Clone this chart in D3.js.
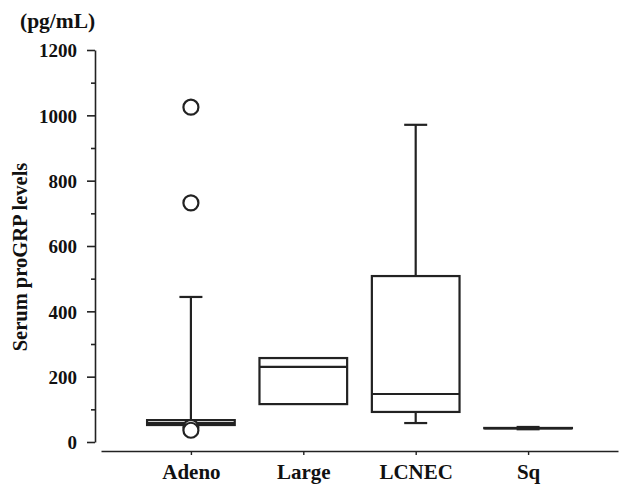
<!DOCTYPE html>
<html>
<head>
<meta charset="utf-8">
<script src="https://cdn.jsdelivr.net/npm/d3@7"></script>
<style>
  body { margin: 0; background: #fff; }
  text { font-family: "Liberation Serif", "Times New Roman", serif; font-weight: bold; fill: #111; }
</style>
</head>
<body>
<script>
let w = 626;
let h = 484;

const categories = ["Adeno", "Large", "LCNEC", "Sq"];
const q1 = [52, 116, 92, 42];
const medians = [58, 230, 147, 42];
const q3 = [67, 257, 508, 43];
const whiskerLow = [null, null, 58, 39];
const whiskerHigh = [444, null, 971, 46];
const outliers = [[1025, 732, 45, 36], [], [], []];
const yTicks = [0, 200, 400, 600, 800, 1000, 1200];
const yMinorTicks = [100, 300, 500, 700, 900, 1100];

const boxes = categories.map(function (c, i) {
  return { cat: c, q1: q1[i], med: medians[i], q3: q3[i], lo: whiskerLow[i], hi: whiskerHigh[i], out: outliers[i] };
});

//create our svg
let svg = d3.select("body").append("svg").attr("width", w).attr("height", h);

let y = d3.scaleLinear().domain([0, 1200]).range([442, 50]);
let x = d3.scalePoint().domain(categories).range([101, 618]).padding(0.8);
let boxW = x.step() * 0.78;
let capW = 23;

//y axis, major ticks with labels
let yAxis = svg.append("g")
  .attr("transform", "translate(95,0)")
  .call(d3.axisLeft(y).tickValues(yTicks).tickFormat(d3.format("d")).tickSize(8).tickSizeOuter(0).tickPadding(10));
yAxis.selectAll("text").attr("font-size", 19).attr("dy", "0.36em").style("font-family", "Liberation Serif").style("font-weight", "bold");

//minor ticks
svg.append("g")
  .attr("transform", "translate(95,0)")
  .call(d3.axisLeft(y).tickValues(yMinorTicks).tickSize(4).tickFormat(""))
  .select(".domain").remove();

svg.selectAll(".domain, .tick line").attr("stroke", "#222").attr("stroke-width", 1.6);

//x axis
let xAxis = svg.append("g")
  .attr("transform", "translate(0,451)")
  .call(d3.axisBottom(x).tickSize(4).tickSizeOuter(0).tickPadding(9));
xAxis.select(".domain").attr("stroke", "#222").attr("stroke-width", 1.6);
xAxis.selectAll(".tick line").attr("stroke", "#222").attr("stroke-width", 1.4);
xAxis.selectAll("text").attr("font-size", 21).style("font-family", "Liberation Serif").style("font-weight", "bold");

//unit and axis title
svg.append("text").attr("x", 20).attr("y", 28).attr("font-size", 21.5).text("(pg/mL)");
svg.append("text")
  .attr("transform", "translate(27,257) rotate(-90)")
  .attr("text-anchor", "middle")
  .attr("font-size", 20.5)
  .text("Serum proGRP levels");

let g = svg.selectAll(".box").data(boxes).enter().append("g").attr("class", "box");

//whiskers
g.filter(function (d) { return d.hi !== null; }).each(function (d) {
  let s = d3.select(this);
  s.append("line").attr("x1", x(d.cat)).attr("x2", x(d.cat)).attr("y1", y(d.q3)).attr("y2", y(d.hi));
  s.append("line").attr("x1", x(d.cat) - capW / 2).attr("x2", x(d.cat) + capW / 2).attr("y1", y(d.hi)).attr("y2", y(d.hi));
});
g.filter(function (d) { return d.lo !== null; }).each(function (d) {
  let s = d3.select(this);
  s.append("line").attr("x1", x(d.cat)).attr("x2", x(d.cat)).attr("y1", y(d.q1)).attr("y2", y(d.lo));
  s.append("line").attr("x1", x(d.cat) - capW / 2).attr("x2", x(d.cat) + capW / 2).attr("y1", y(d.lo)).attr("y2", y(d.lo));
});

//boxes
g.append("rect")
  .attr("x", function (d) { return x(d.cat) - boxW / 2; })
  .attr("y", function (d) { return y(d.q3); })
  .attr("width", boxW)
  .attr("height", function (d) { return y(d.q1) - y(d.q3); })
  .attr("fill", "#fff");

//medians
g.append("line")
  .attr("x1", function (d) { return x(d.cat) - boxW / 2; })
  .attr("x2", function (d) { return x(d.cat) + boxW / 2; })
  .attr("y1", function (d) { return y(d.med); })
  .attr("y2", function (d) { return y(d.med); });

g.selectAll("line, rect").attr("stroke", "#222").attr("stroke-width", 2.2);

//outliers
g.selectAll("circle")
  .data(function (d) { return d.out.map(function (v) { return { cat: d.cat, v: v }; }); })
  .enter()
  .append("circle")
  .attr("cx", function (d) { return x(d.cat); })
  .attr("cy", function (d) { return y(d.v); })
  .attr("r", 7.5)
  .attr("fill", "#fff")
  .attr("stroke", "#222")
  .attr("stroke-width", 2.2);
</script>
</body>
</html>
